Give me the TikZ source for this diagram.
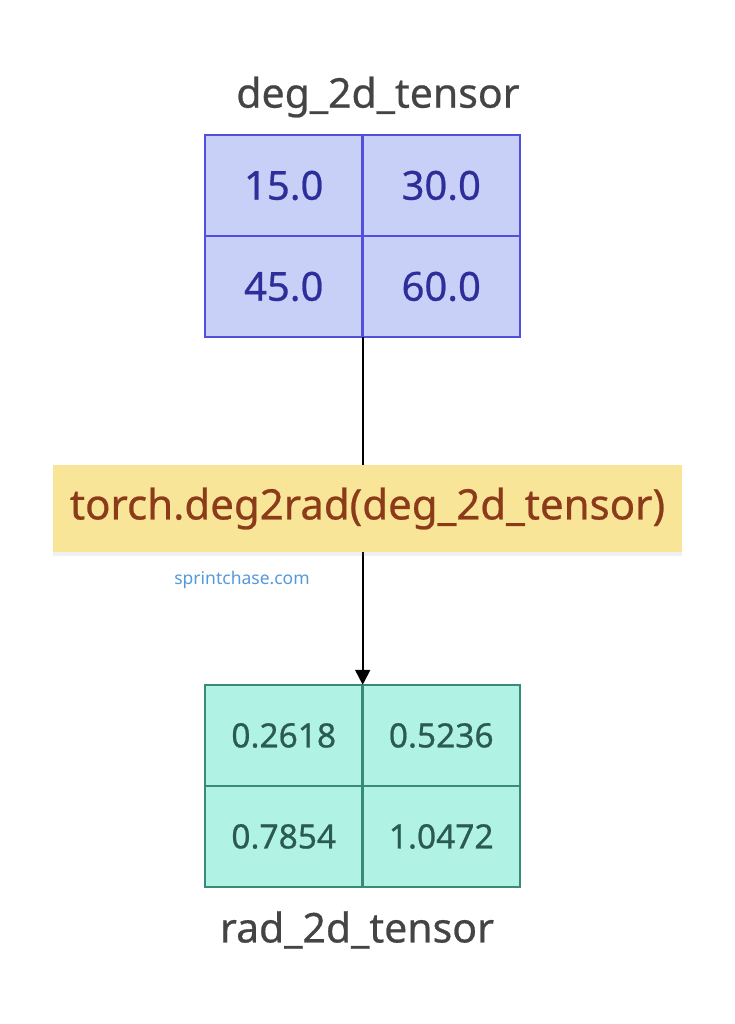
\documentclass[tikz,border=0pt]{standalone}
\usepackage{fontspec}
\setmainfont{Noto Sans}
\newfontface\labelface{Noto Sans}[FakeBold=0.6]
\usepackage{tikz}
\usetikzlibrary{arrows.meta,shadows}

\definecolor{degfill}{HTML}{C8D0F8}
\definecolor{degline}{HTML}{5050DD}
\definecolor{degtext}{HTML}{2E2E9A}
\definecolor{radfill}{HTML}{B0F2E4}
\definecolor{radline}{HTML}{3A8A7A}
\definecolor{radtext}{HTML}{2A5A50}
\definecolor{opfill}{HTML}{F9E597}
\definecolor{optext}{HTML}{8B3A1A}
\definecolor{nametext}{HTML}{444444}
\definecolor{sitetext}{HTML}{5599DD}

\tikzset{
  degcell/.style={fill=degfill, text=degtext,
    minimum width=157.5pt, minimum height=101pt, inner sep=0pt,
    font=\labelface\fontsize{40}{46}\selectfont},
  radcell/.style={fill=radfill, text=radtext,
    minimum width=157.5pt, minimum height=101pt, inner sep=0pt,
    font=\labelface\fontsize{33.5}{40}\selectfont},
  cellrule/.style={line width=1.8pt},
  tensorname/.style={text=nametext, inner sep=0pt, font=\labelface\fontsize{41}{48}\selectfont},
  opbox/.style={fill=opfill, text=optext, minimum width=629pt, minimum height=87pt,
    inner sep=0pt, font=\labelface\fontsize{42}{48}\selectfont,
    drop shadow={opacity=0.12, shadow xshift=0pt, shadow yshift=-4pt}},
  flow/.style={line width=2pt, -{Triangle[length=15pt,width=15pt]}}
}

\begin{document}
\begin{tikzpicture}[x=1pt, y=-1pt]
        \useasboundingbox (0,0) rectangle (735,1024);                %

        \node[tensorname] (degname) at (378,97)    {deg\_2d\_tensor};   %input name
        \node[degcell]    (d11)     at (283.75,185.5) {15.0};         %
        \node[degcell]    (d12)     at (441.25,185.5) {30.0};         %
        \node[degcell]    (d21)     at (283.75,286.5) {45.0};         %
        \node[degcell]    (d22)     at (441.25,286.5) {60.0};         %
        \foreach \c in {d11,d12,d21,d22}
          \draw[cellrule, degline] (\c.south west) rectangle (\c.north east);

        \node[radcell]    (r11)     at (283.75,735.5) {0.2618};       %output
        \node[radcell]    (r12)     at (441.25,735.5) {0.5236};       %
        \node[radcell]    (r21)     at (283.75,836.5) {0.7854};       %
        \node[radcell]    (r22)     at (441.25,836.5) {1.0472};       %
        \foreach \c in {r11,r12,r21,r22}
          \draw[cellrule, radline] (\c.south west) rectangle (\c.north east);
        \node[tensorname] (radname) at (357,930)   {rad\_2d\_tensor};   %output name

        \draw[flow] (d21.south east) -- (r11.north east);            %

        \node[opbox]      (op)      at (367.5,508.5) {torch.deg2rad(deg\_2d\_tensor)};
        \node[text=sitetext, font=\fontsize{17.5}{21}\selectfont] (site) at (242,580) {sprintchase.com};
      \end{tikzpicture}
\end{document}
